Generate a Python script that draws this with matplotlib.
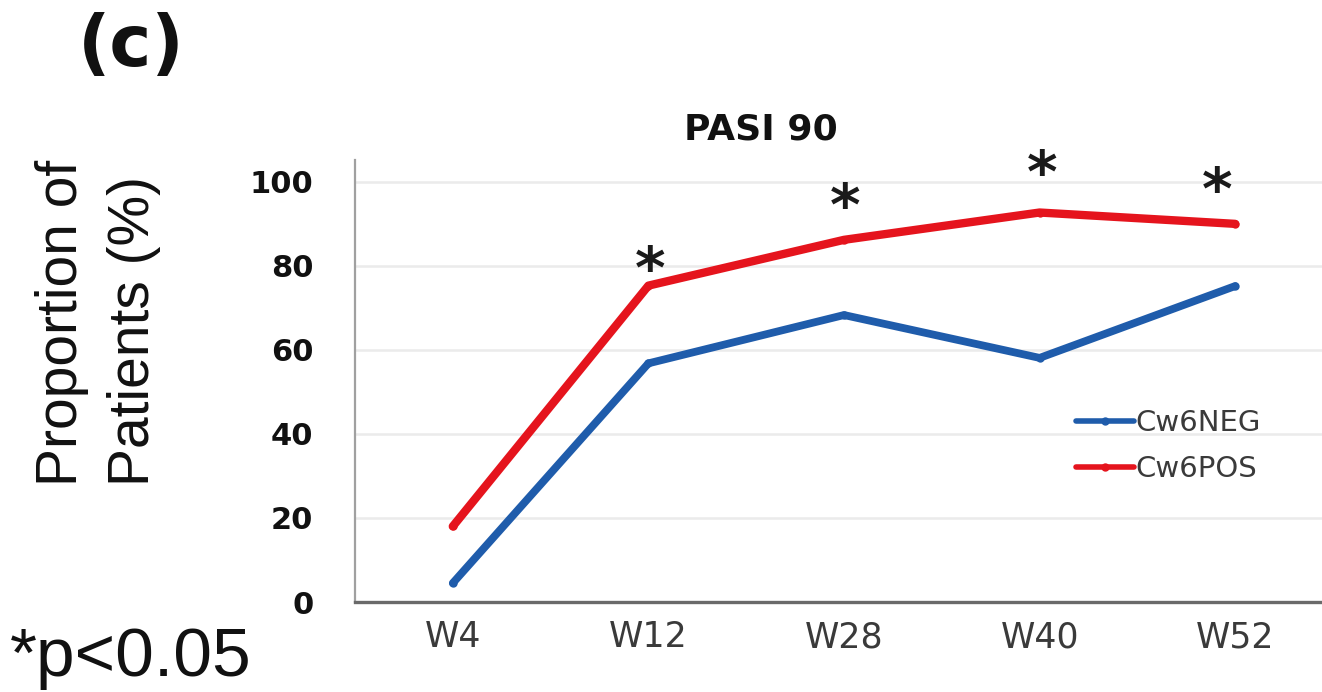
import matplotlib
matplotlib.use("Agg")
import matplotlib.pyplot as plt

# PASI 90 response by visit, split by HLA-Cw6 status
weeks = ["W4", "W12", "W28", "W40", "W52"]
cw6_neg = [4.5, 56.8, 68.3, 58.1, 75.2]
cw6_pos = [18.0, 75.3, 86.2, 92.7, 90.0]
significant = [False, True, True, True, True]
y_ticks = [0, 20, 40, 60, 80, 100]

RED = "#e5141d"
BLUE = "#1f5cab"

fig = plt.figure(figsize=(13.22, 6.92), dpi=100)
ax = fig.add_axes([355 / 1322, 90 / 692, 978 / 1322, 442 / 692])

x = list(range(len(weeks)))
ax.plot(x, cw6_neg, color=BLUE, lw=5.6, marker="o", ms=5,
        solid_capstyle="round", solid_joinstyle="round", label="Cw6NEG", zorder=3)
ax.plot(x, cw6_pos, color=RED, lw=6.0, marker="o", ms=5,
        solid_capstyle="round", solid_joinstyle="round", label="Cw6POS", zorder=4)

# significance markers above the Cw6POS curve
star_offsets = [(0, 0), (1, -2), (1, 11), (2, 15), (-13, 11)]
for xi, yi, sig, (dx, dy) in zip(x, cw6_pos, significant, star_offsets):
    if sig:
        ax.annotate("*", (xi, yi), xytext=(dx, dy), textcoords="offset points",
                    ha="center", va="baseline", fontsize=42,
                    fontfamily="DejaVu Sans", fontweight="bold", color="#1a1a1a")

ax.set_xlim(-0.5, 4.5)
ax.set_ylim(0, 105.2)
ax.set_xticks(x)
ax.set_xticklabels(weeks)
ax.set_yticks(y_ticks)
ax.set_yticklabels([str(v) for v in y_ticks])

ax.tick_params(axis="both", length=0)
ax.tick_params(axis="y", pad=30, labelsize=22, labelcolor="#111111")
ax.tick_params(axis="x", pad=13, labelsize=25, labelcolor="#3a3a3a")
for lab in ax.get_yticklabels():
    lab.set_fontfamily("DejaVu Sans")
    lab.set_fontweight("bold")
for lab in ax.get_xticklabels():
    lab.set_fontfamily("DejaVu Sans")

ax.grid(axis="y", color="#ebebeb", lw=1.8)
ax.set_axisbelow(True)
for side in ("top", "right"):
    ax.spines[side].set_visible(False)
ax.spines["left"].set_color("#a0a0a0")
ax.spines["left"].set_linewidth(1.6)
ax.spines["bottom"].set_color("#6a6a6a")
ax.spines["bottom"].set_linewidth(2.4)

leg = ax.legend(loc="center left", bbox_to_anchor=(1076 / 1322, 1 - 446 / 692),
                bbox_transform=fig.transFigure, frameon=False, borderpad=0,
                borderaxespad=0, handlelength=2.0, handletextpad=0.05,
                labelspacing=0.6, prop={"family": "DejaVu Sans", "size": 21})
for t in leg.get_texts():
    t.set_color("#3a3a3a")
for h in leg.get_lines():
    h.set_linewidth(4)

fig.text(761 / 1322, 1 - 140 / 692, "PASI 90", ha="center", va="baseline",
         fontsize=26, fontweight="bold", fontfamily="DejaVu Sans", color="#111111")
fig.text(131 / 1322, 1 - 47 / 692, "(c)", ha="center", va="center",
         fontsize=51, fontweight="bold", fontfamily="DejaVu Sans", color="#111111")
fig.text(98 / 1322, 1 - 486 / 692, "Proportion of\nPatients (%)", rotation=90,
         ha="center", va="bottom", multialignment="left", linespacing=1.45,
         fontsize=41, fontfamily="Liberation Sans", color="#111111")
fig.text(10 / 1322, 1 - 676 / 692, "*p<0.05", ha="left", va="baseline",
         fontsize=50, fontfamily="Liberation Sans", color="#111111")

fig.savefig("out.png", dpi=100)
